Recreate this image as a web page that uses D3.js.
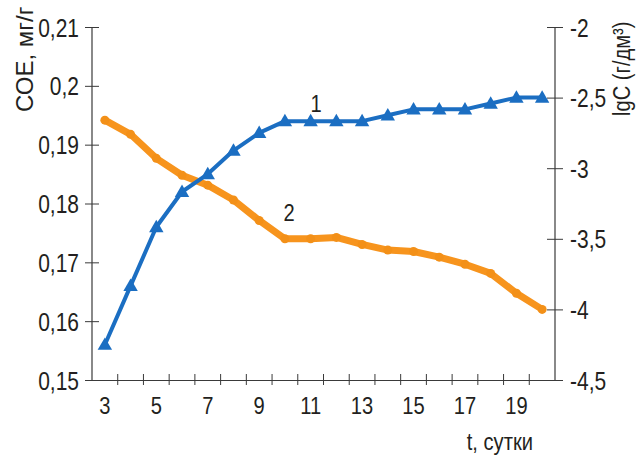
<!DOCTYPE html>
<html>
<head>
<meta charset="utf-8">
<script src="https://cdn.jsdelivr.net/npm/d3@7"></script>
<style>
  body { margin: 0; background: #fff; }
  text { font-family: "Liberation Sans Narrow", "Arial Narrow", "Liberation Sans", Arial, sans-serif; fill: #231f20; }
</style>
</head>
<body>
<div id="chart"></div>
<script>
var days = [3, 4, 5, 6, 7, 8, 9, 10, 11, 12, 13, 14, 15, 16, 17, 18, 19, 20];
var coe = [0.156, 0.166, 0.176, 0.182, 0.185, 0.189, 0.192, 0.194, 0.194, 0.194, 0.194, 0.195, 0.196, 0.196, 0.196, 0.197, 0.198, 0.198];
var lgC = [-2.66, -2.76, -2.93, -3.05, -3.12, -3.225, -3.37, -3.5, -3.5, -3.49, -3.54, -3.58, -3.59, -3.63, -3.68, -3.745, -3.886, -4.0];
var dayLabels = [3, 5, 7, 9, 11, 13, 15, 17, 19];
var leftTicks = [0.15, 0.16, 0.17, 0.18, 0.19, 0.2, 0.21];
var rightTicks = [-4.5, -4, -3.5, -3, -2.5, -2];

// narrow look (no Arial Narrow installed): squeeze text horizontally
var squeezeK = 0.84;
function squeeze(sel) {
    sel.each(function() {
        var t = d3.select(this);
        var x = +t.attr("x") || 0;
        var tr = t.attr("transform") || "";
        t.attr("x", x / squeezeK).attr("transform", tr + " scale(" + squeezeK + ",1)");
    });
}

function drawChart(selector) {
    var width = 636, height = 455;
    var pLeft = 92, pRight = 555, pTop = 27, pBottom = 380;

    var svg = d3.select(selector).append("svg")
        .attr("width", width)
        .attr("height", height);

    var x = d3.scaleBand().domain(days).range([pLeft, pRight]);
    var yL = d3.scaleLinear().domain([0.15, 0.21]).range([pBottom, pTop]);
    var yR = d3.scaleLinear().domain([-4.5, -2]).range([pBottom, pTop]);

    function comma(d) { return String(d).replace(".", ","); }

    var axisColor = "#3a3a3a";

    // left axis
    var gl = svg.append("g")
        .attr("transform", "translate(" + pLeft + ",0)")
        .call(d3.axisLeft(yL).tickValues(leftTicks).tickFormat(comma).tickSize(6));
    gl.selectAll(".tick line").attr("x1", 7).attr("x2", -7);
    gl.selectAll("text").attr("font-size", 25).attr("dy", "0.36em").attr("x", -13).call(squeeze);

    // right axis
    var gr = svg.append("g")
        .attr("transform", "translate(" + pRight + ",0)")
        .call(d3.axisRight(yR).tickValues(rightTicks).tickFormat(comma).tickSize(6));
    gr.selectAll(".tick line").attr("x1", -8).attr("x2", 8);
    gr.selectAll("text").attr("font-size", 25).attr("dy", "0.36em").attr("x", 15).call(squeeze);

    // bottom axis: ticks on category boundaries
    var gb = svg.append("g")
        .attr("transform", "translate(0," + pBottom + ")")
        .call(d3.axisBottom(x).tickValues([]).tickSizeOuter(0));
    gb.selectAll(".tickmark")
        .data(days.slice(1))
      .enter().append("line")
        .attr("x1", function(d) { return x(d); })
        .attr("x2", function(d) { return x(d); })
        .attr("y1", -6).attr("y2", 5)
        .attr("stroke", axisColor);
    gb.selectAll(".lbl")
        .data(dayLabels)
      .enter().append("text")
        .attr("x", function(d) { return x(d) + x.bandwidth() / 2; })
        .attr("y", 34)
        .attr("text-anchor", "middle")
        .attr("font-size", 24)
        .text(function(d) { return d; })
        .call(squeeze);

    svg.selectAll(".domain").attr("stroke", axisColor).attr("stroke-width", 1.2);
    svg.selectAll(".tick line").attr("stroke", axisColor);
    gl.select(".domain").attr("d", "M0," + pBottom + "V" + pTop);
    gr.select(".domain").attr("d", "M0," + pBottom + "V" + pTop);

    var cx = function(d, i) { return x(days[i]) + x.bandwidth() / 2; };

    // series 2 (orange, right axis)
    var line2 = d3.line().x(cx).y(function(d) { return yR(d); });
    svg.append("path")
        .datum(lgC)
        .attr("fill", "none")
        .attr("stroke", "#f7941d")
        .attr("stroke-width", 7)
        .attr("stroke-linejoin", "round")
        .attr("stroke-linecap", "round")
        .attr("d", line2);
    svg.selectAll(".dot2")
        .data(lgC)
      .enter().append("circle")
        .attr("cx", cx)
        .attr("cy", function(d) { return yR(d); })
        .attr("r", 4.5)
        .attr("fill", "#f39018");

    // series 1 (blue, left axis)
    var line1 = d3.line().x(cx).y(function(d) { return yL(d); });
    svg.append("path")
        .datum(coe)
        .attr("fill", "none")
        .attr("stroke", "#1b6ec2")
        .attr("stroke-width", 4)
        .attr("stroke-linejoin", "round")
        .attr("d", line1);
    svg.selectAll(".tri")
        .data(coe)
      .enter().append("path")
        .attr("transform", function(d, i) { return "translate(" + cx(d, i) + "," + (yL(d) + 1) + ")"; })
        .attr("d", d3.symbol().type(d3.symbolTriangle).size(90))
        .attr("fill", "#1b6ec2");

    // series labels
    svg.append("text").attr("x", 316).attr("y", 112).attr("text-anchor", "middle").attr("font-size", 24).text("1").call(squeeze);
    svg.append("text").attr("x", 289).attr("y", 221).attr("text-anchor", "middle").attr("font-size", 24).text("2").call(squeeze);

    // axis titles
    svg.append("text")
        .attr("transform", "translate(33,112) rotate(-90)")
        .attr("font-size", 24)
        .text("СОЕ, мг/г");
    svg.append("text")
        .attr("transform", "translate(630,116) rotate(-90)")
        .attr("font-size", 24)
        .text("lgC (г/дм³)")
        .call(squeeze);
    svg.append("text")
        .attr("x", 533).attr("y", 450)
        .attr("text-anchor", "end")
        .attr("font-size", 24)
        .text("t, сутки")
        .call(squeeze);
}

drawChart("#chart");
</script>
</body>
</html>
